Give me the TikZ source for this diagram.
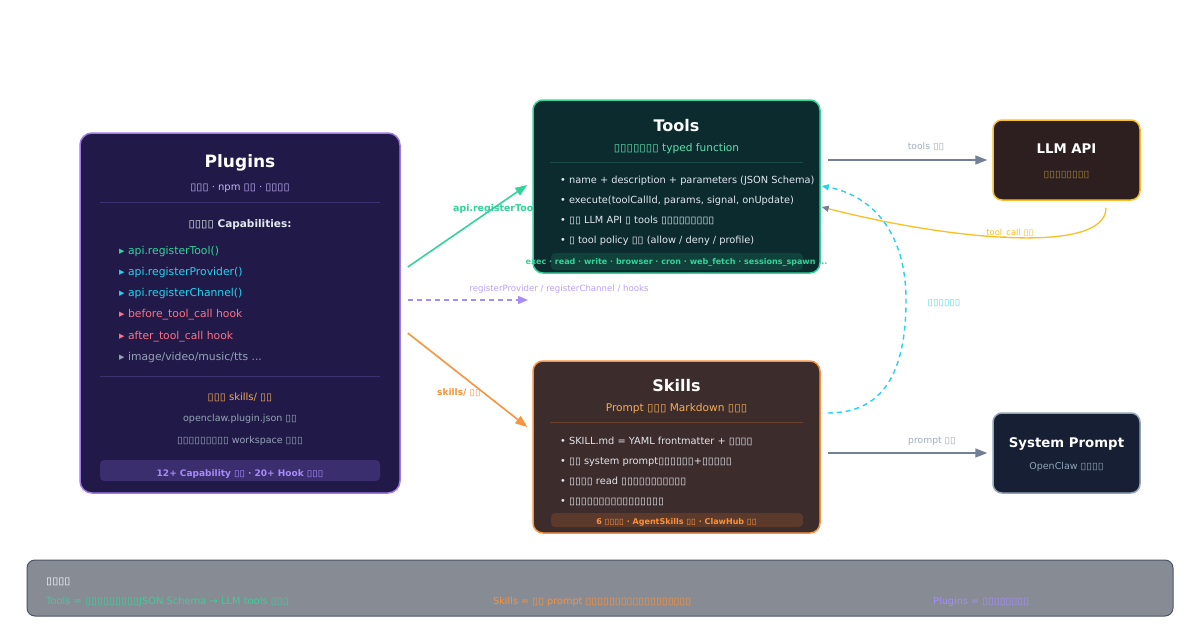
\documentclass[tikz,border=0pt]{standalone}
\usepackage{fontspec}
\setmainfont{DejaVu Sans}
\newfontfamily\tofont[FakeStretch=1.1]{DejaVu Sans}
\newcommand\tf[1]{{\tofont\mdseries#1}}
\usetikzlibrary{arrows.meta,calc}
\pgfdeclarelayer{back}
\pgfdeclarelayer{bg}
\pgfsetlayers{back,bg,main}
\definecolor{plugfill}{HTML}{211A48}
\definecolor{plugdraw}{HTML}{9F7AEA}
\definecolor{lav}{HTML}{C4B5FD}
\definecolor{plugsep}{HTML}{3B3370}
\definecolor{capc}{HTML}{E2E8F0}
\definecolor{grn}{HTML}{34D399}
\definecolor{cyn}{HTML}{22D3EE}
\definecolor{pnk}{HTML}{FB7185}
\definecolor{slate}{HTML}{94A3B8}
\definecolor{org}{HTML}{FB923C}
\definecolor{orglt}{HTML}{F6AD55}
\definecolor{pband}{HTML}{3A2E6E}
\definecolor{ptxt}{HTML}{A78BFA}
\definecolor{toolfill}{HTML}{0C2B2E}
\definecolor{toolsep}{HTML}{1E4D47}
\definecolor{mint}{HTML}{6EE7B7}
\definecolor{tband}{HTML}{10413A}
\definecolor{llmfill}{HTML}{2D1F20}
\definecolor{yel}{HTML}{FBBF24}
\definecolor{llmsub}{HTML}{A58339}
\definecolor{skfill}{HTML}{3C2C2C}
\definecolor{sksep}{HTML}{6A4330}
\definecolor{skband}{HTML}{5B3A2C}
\definecolor{spfill}{HTML}{161F33}
\definecolor{spdraw}{HTML}{94A3B8}
\definecolor{barfill}{HTML}{878B94}
\definecolor{bardraw}{HTML}{4A5568}
\definecolor{agray}{HTML}{718096}
\definecolor{lblgray}{HTML}{A0AEC0}
\begin{document}
\begin{tikzpicture}[x=1pt,y=-1pt,
  box/.style={rectangle, rounded corners=12pt, line width=1.5pt, inner sep=0pt},
  txt/.style={anchor=base, inner sep=0pt},
  txl/.style={anchor=base west, inner sep=0pt},
  fs/.style={font=\fontsize{#1}{#1}\selectfont},
  fsb/.style={font=\fontsize{#1}{#1}\selectfont\bfseries},
  bigtip/.style={-{Triangle[length=12pt,width=9pt]}},
  smalltip/.style={-{Triangle[length=7pt,width=6pt]}},
  conn/.style={line width=1.6pt},
  sep/.style={line width=1pt},
  band/.style={rounded corners=4pt}
]
\begin{pgfonlayer}{back}
\fill[white] (0,0) rectangle (1200,640);
\end{pgfonlayer}
\useasboundingbox (0,0) rectangle (1200,640);

% ---------- boxes ----------
\node[box, draw=plugdraw, fill=plugfill, minimum width=320, minimum height=360] (plug) at (240,313) {};
\node[box, draw=grn, fill=toolfill, minimum width=287, minimum height=173, rounded corners=10pt] (tools) at (676.5,186.5) {};
\node[box, draw=org, fill=skfill, minimum width=287, minimum height=172, rounded corners=10pt] (skills) at (676.5,447) {};
\node[box, draw=yel, fill=llmfill, minimum width=147, minimum height=80, rounded corners=9pt] (llm) at (1066.5,160) {};
\node[box, draw=spdraw, fill=spfill, minimum width=147, minimum height=80, rounded corners=9pt] (sp) at (1066.5,453) {};
\node[box, draw=bardraw, fill=barfill, minimum width=1146, minimum height=56, rounded corners=8pt, line width=1pt] (bar) at (600,588) {};

% ---------- connectors ----------
\coordinate (dashend) at (528,300);
\begin{pgfonlayer}{bg}
\draw[conn, grn, bigtip] ([shift={(7,-46)}]plug.east) -- ([shift={(-5,-1.5)}]tools.west);
\node[txl, fsb=9.4, grn] at (453,211) {api.registerTool()};
\draw[conn, ptxt, line width=1.4pt, dash pattern=on 5pt off 4pt, -{Triangle[length=10pt,width=8pt]}] ([shift={(7,-13)}]plug.east) -- (dashend);
\node[txt, fs=8.6, ptxt!80!white] at (559,291) {registerProvider / registerChannel / hooks};
\draw[conn, org, bigtip] ([shift={(7,20)}]plug.east) -- ([shift={(-5,-20)}]skills.west);
\node[txl, fsb=9, org] at (437,395) {skills/ \tf{▯▯}};

\draw[conn, agray, bigtip] ([shift={(7,-26.5)}]tools.east) -- ([shift={(-5,0)}]llm.west);
\node[txt, fs=9.2, lblgray] at (926,149) {tools \tf{▯▯}};
\draw[conn, agray, bigtip] ([shift={(7,6)}]skills.east) -- ([shift={(-5,0)}]sp.west);
\node[txt, fs=9.2, lblgray] at (932,443) {prompt \tf{▯▯}};

\draw[yel, line width=1.3pt, -{Triangle[length=7pt,width=6pt,color=agray]}]
  ([shift={(39.5,7)}]llm.south) .. controls (1106,255) and (950,240) .. ([shift={(1,20.5)}]tools.east);
\node[txt, fs=8.4, yel] at (1010,235) {tool\_call \tf{▯▯}};

\draw[cyn, line width=1.4pt, dash pattern=on 5pt off 4pt, -{Triangle[length=7pt,width=6pt]}]
  ([shift={(7,-34)}]skills.east) .. controls (885,413) and (906,370) .. (906,300)
  .. controls (906,230) and (870,195) .. ([shift={(1,-0.5)}]tools.east);
\node[txt, fs=9, cyn!75!white] at (944,305) {\tf{▯▯▯▯▯▯}};
\end{pgfonlayer}

% ---------- Plugins content ----------
\node[txt, fsb=17, white] (plugt) at (240,167) {Plugins};
\node[txt, fs=10, lav] at (240,190) {\tf{▯▯▯} · npm \tf{▯▯} · \tf{▯▯▯▯}};
\draw[sep, plugsep] (100,202) -- (380,202);
\node[txt, fsb=10.5, capc] at (240,227) {\tf{▯▯▯▯} Capabilities:};
\node[txl, fs=10.8, grn] at (119,254) {▸ api.registerTool()};
\node[txl, fs=10.8, cyn] at (119,275) {▸ api.registerProvider()};
\node[txl, fs=10.8, cyn] at (119,296) {▸ api.registerChannel()};
\node[txl, fs=10.8, pnk] at (119,317) {▸ before\_tool\_call hook};
\node[txl, fs=10.8, pnk] at (119,339) {▸ after\_tool\_call hook};
\node[txl, fs=10.8, slate] at (119,360) {▸ image/video/music/tts ...};
\draw[sep, plugsep] (100,376) -- (380,376);
\node[txt, fs=10, orglt] at (240,400) {\tf{▯▯▯} skills/ \tf{▯▯}};
\node[txt, fs=9.5, slate] at (240,421) {openclaw.plugin.json \tf{▯▯}};
\node[txt, fs=9.5, slate] at (240,443) {\tf{▯▯▯▯▯▯▯▯▯} workspace \tf{▯▯▯}};
\fill[pband, band] (100,460) rectangle (380,481);
\node[txt, fsb=9, ptxt] at (240,476) {12+ Capability \tf{▯▯} · 20+ Hook \tf{▯▯▯}};

% ---------- Tools content ----------
\node[txt, fsb=16, white] at (676.5,131) {Tools};
\node[txt, fs=10.6, mint!70!grn] at (676.5,151) {\tf{▯▯▯▯▯▯▯} typed function};
\draw[sep, toolsep] (550,162) -- (803,162);
\node[txl, fs=9.8, capc] at (560,183) {• name + description + parameters (JSON Schema)};
\node[txl, fs=9.8, capc] at (560,203) {• execute(toolCallId, params, signal, onUpdate)};
\node[txl, fs=9.8, capc] at (560,223) {• \tf{▯▯} LLM API \tf{▯} tools \tf{▯▯▯▯▯▯▯▯▯}};
\node[txl, fs=9.8, capc] at (560,243) {• \tf{▯} tool policy \tf{▯▯} (allow / deny / profile)};
\fill[tband, band] (551,253) rectangle (803,270);
\node[txt, fsb=8, grn] at (676.5,264) {exec · read · write · browser · cron · web\_fetch · sessions\_spawn ...};

% ---------- LLM API ----------
\node[txt, fsb=13.3, white] at (1066.5,153) {LLM API};
\node[txt, fs=9.5, llmsub] at (1066.5,177) {\tf{▯▯▯▯▯▯▯▯}};

% ---------- Skills content ----------
\node[txt, fsb=16, white] at (676.5,391) {Skills};
\node[txt, fs=10.6, orglt] at (676.5,411) {Prompt \tf{▯▯▯} Markdown \tf{▯▯▯}};
\draw[sep, sksep] (550,422) -- (803,422);
\node[txl, fs=9.8, capc] at (560,444) {• SKILL.md = YAML frontmatter + \tf{▯▯▯▯}};
\node[txl, fs=9.8, capc] at (560,464) {• \tf{▯▯} system prompt\tf{▯▯▯▯▯▯}+\tf{▯▯▯▯▯}};
\node[txl, fs=9.8, capc] at (560,484) {• \tf{▯▯▯▯} read \tf{▯▯▯▯▯▯▯▯▯▯▯}};
\node[txl, fs=9.8, capc] at (560,504) {• \tf{▯▯▯▯▯▯▯▯▯▯▯▯▯▯▯▯}};
\fill[skband, band] (551,513) rectangle (803,527);
\node[txt, fsb=8, org] at (676.5,524) {6 \tf{▯▯▯▯} · AgentSkills \tf{▯▯} · ClawHub \tf{▯▯}};

% ---------- System Prompt ----------
\node[txt, fsb=13.3, white] at (1066.5,447) {System Prompt};
\node[txt, fs=9.5, slate] at (1066.5,469) {OpenClaw \tf{▯▯▯▯}};

% ---------- bottom bar ----------
\node[txl, fsb=10, white] at (46,584) {\tf{▯▯▯▯}};
\node[txl, fs=9.9, grn] at (46,604) {Tools = \tf{▯▯▯▯▯▯▯▯▯}JSON Schema → LLM tools \tf{▯▯▯}};
\node[txl, fs=9.7, org] at (493,604) {Skills = \tf{▯▯} prompt \tf{▯▯▯▯▯▯▯▯▯▯▯▯▯▯▯▯▯▯}};
\node[txl, fs=9.7, ptxt] at (933,604) {Plugins = \tf{▯▯▯▯▯▯▯▯}};
\end{tikzpicture}
\end{document}
